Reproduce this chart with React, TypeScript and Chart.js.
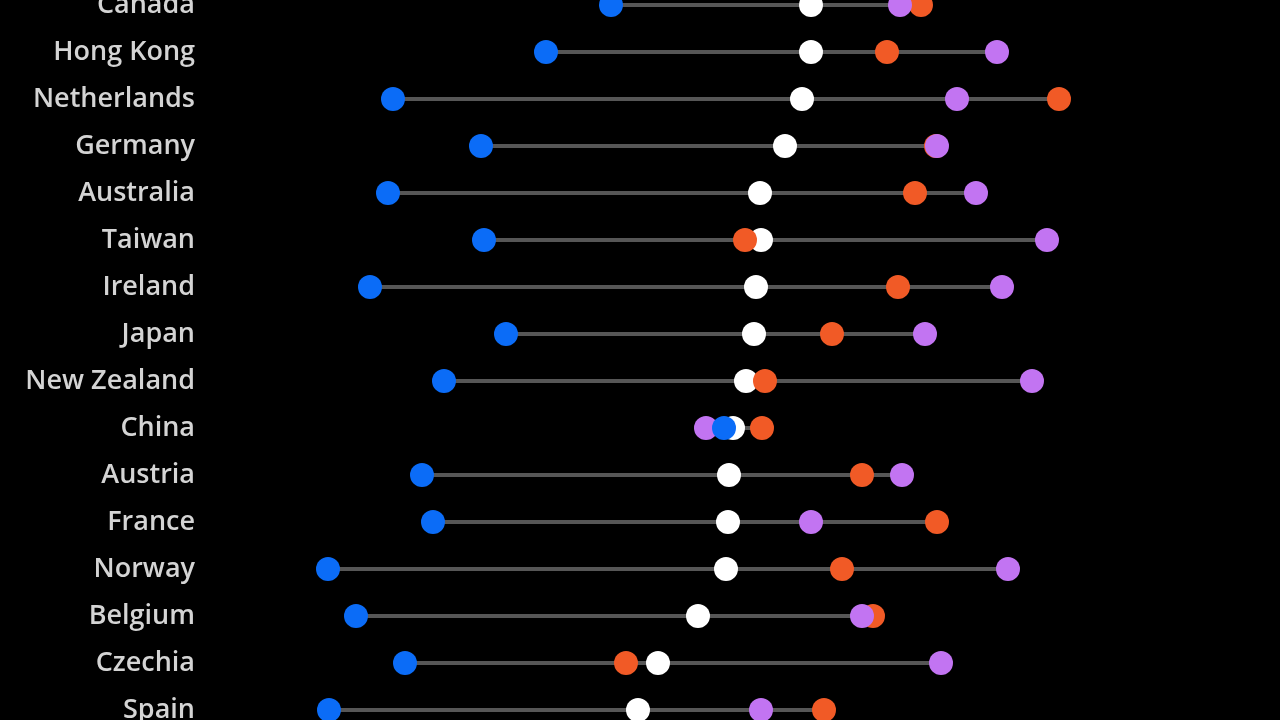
import React, { useEffect, useRef } from "react";
import { Chart, registerables } from "chart.js";

Chart.register(...registerables);

const countries = [
  "Canada", "Hong Kong", "Netherlands", "Germany", "Australia", "Taiwan", "Ireland", "Japan",
  "New Zealand", "China", "Austria", "France", "Norway", "Belgium", "Czechia", "Spain",
];
const blueValues = [40.1, 33.6, 18.3, 27.1, 17.8, 27.4, 16.0, 29.6, 23.4, 51.4, 21.2, 22.3, 11.8, 14.6, 19.5, 11.9];
const whiteValues = [60.1, 60.1, 59.2, 57.5, 55.0, 55.1, 54.6, 54.4, 53.6, 52.3, 51.9, 51.8, 51.6, 48.8, 44.8, 42.8];
const orangeValues = [71.1, 67.7, 84.9, 72.6, 70.5, 53.5, 68.8, 62.2, 55.5, 55.2, 65.2, 72.7, 63.2, 66.3, 41.6, 61.4];
const purpleValues = [69.0, 78.7, 74.7, 72.7, 76.6, 83.7, 79.2, 71.5, 82.2, 49.6, 69.2, 60.1, 79.8, 65.2, 73.1, 55.1];

export default function App() {
  const ref = useRef<HTMLCanvasElement | null>(null);
  useEffect(() => {
    if (!ref.current) return;
    const pts = (vals: number[]) => vals.map((v, i) => ({ x: v, y: i }));
    const lineData: any[] = [];
    countries.forEach((_, i) => {
      const all = [blueValues[i], whiteValues[i], orangeValues[i], purpleValues[i]];
      lineData.push({ x: Math.min(...all), y: i });
      lineData.push({ x: Math.max(...all), y: i });
      lineData.push({ x: Math.max(...all), y: null });
    });
    const dot = (label: string, color: string, vals: number[]) => ({
      type: "scatter" as const,
      label,
      data: pts(vals),
      backgroundColor: color,
      borderColor: color,
      borderWidth: 0,
      pointRadius: 12,
      pointHoverRadius: 12,
      clip: false as any,
    });
    const chart = new Chart(ref.current, {
      type: "scatter",
      data: {
        datasets: [
          dot("blue", "#0b6cf7", blueValues),
          dot("purple", "#c274f2", purpleValues),
          dot("orange", "#f15a26", orangeValues),
          dot("white", "#ffffff", whiteValues),
          {
            type: "line",
            label: "range",
            data: lineData,
            borderColor: "#565656",
            borderWidth: 4,
            pointRadius: 0,
            spanGaps: false,
            showLine: true,
            clip: false as any,
          } as any,
        ],
      },
      options: {
        animation: false,
        responsive: true,
        maintainAspectRatio: false,
        layout: { padding: 0, autoPadding: false },
        plugins: { legend: { display: false }, tooltip: { enabled: false } },
        scales: {
          x: { type: "linear", min: 0, max: 107, display: false },
          y: {
            type: "linear",
            reverse: true,
            min: -0.106,
            max: 15.213,
            grid: { display: false, drawTicks: false },
            border: { display: false },
            afterBuildTicks: (scale: any) => {
              scale.ticks = countries.map((_, i) => ({ value: i }));
            },
            afterFit: (scale: any) => {
              scale.width = 210;
              scale.paddingTop = 0;
              scale.paddingBottom = 0;
            },
            ticks: {
              padding: 15,
              color: "#d4d4d4",
              font: { family: "Open Sans", size: 27, weight: "600" },
              callback: (v: any) => countries[Number(v)] ?? "",
            },
          },
        },
      },
    });
    return () => chart.destroy();
  }, []);
  return (
    <div style={{ position: "fixed", left: 0, top: 0, width: 1280, height: 720, background: "#000" }}>
      <canvas ref={ref} />
    </div>
  );
}
